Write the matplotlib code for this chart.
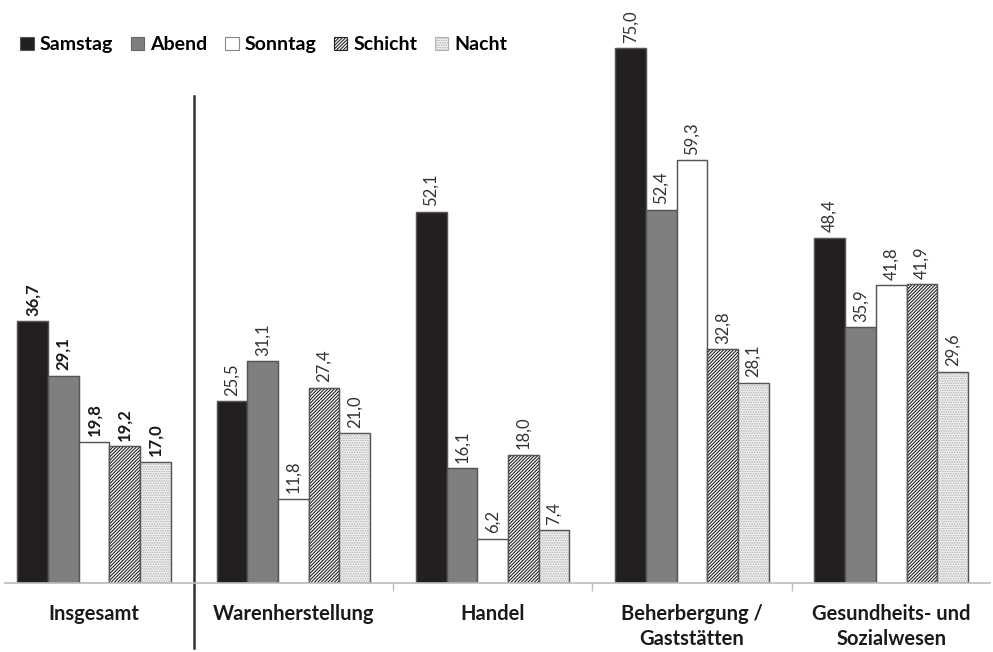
import matplotlib.pyplot as plt
import numpy as np

plt.rcParams['font.family'] = ['Lato', 'DejaVu Sans']
plt.rcParams['hatch.linewidth'] = 0.8

categories = ["Insgesamt", "Warenherstellung", "Handel",
              "Beherbergung /\nGaststätten", "Gesundheits- und\nSozialwesen"]
series = ["Samstag", "Abend", "Sonntag", "Schicht", "Nacht"]

samstag = [36.7, 25.5, 52.1, 75.0, 48.4]
abend = [29.1, 31.1, 16.1, 52.4, 35.9]
sonntag = [19.8, 11.8, 6.2, 59.3, 41.8]
schicht = [19.2, 27.4, 18.0, 32.8, 41.9]
nacht = [17.0, 21.0, 7.4, 28.1, 29.6]

values = [samstag, abend, sonntag, schicht, nacht]

faces = ['#231f20', '#7f7f7f', 'white', 'white', '#f2f2f2']
hatches = [None, None, None, '//////////', '.......']
hatch_cols = ['#555555', '#666666', '#888888', '#222222', '#b0b0b0']

fig = plt.figure(figsize=(9.93, 6.52), dpi=100)
ax = fig.add_axes([0.005, 0.1058, 0.992, 0.8942])

x = np.arange(len(categories))
w = 0.154
for j, vals in enumerate(values):
    pos = x + (j - 2) * w
    ax.bar(pos, vals, w, color=faces[j], edgecolor=hatch_cols[j],
           hatch=hatches[j], linewidth=0.8, label=series[j])
    # outline drawn separately so hatch colour and edge can differ
    ax.bar(pos, vals, w, fill=False, edgecolor='#555555', linewidth=1.0)
    for i, v in enumerate(vals):
        bold = (i == 0)
        ax.annotate(f"{v:.1f}".replace('.', ','), (pos[i], v),
                    xytext=(0, 4), textcoords='offset points',
                    rotation=90, ha='center', va='bottom', fontsize=12,
                    fontweight='bold' if bold else 'normal',
                    color='#1a1a1a' if bold else '#333333')

ax.set_xlim(-0.447, 4.496)
ax.set_ylim(0, 81.8)
ax.set_yticks([])
ax.set_xticks(x)
ax.set_xticklabels(categories, fontsize=14.5, fontweight='bold', color='#1a1a1a',
                   linespacing=1.3)
ax.tick_params(axis='x', length=0, pad=15)
ax.set_xticks(x[:-1] + 0.5, minor=True)
ax.tick_params(axis='x', which='minor', length=6, color='#bbbbbb', width=1)
for s in ['top', 'left', 'right']:
    ax.spines[s].set_visible(False)
ax.spines['bottom'].set_color('#bbbbbb')
ax.spines['bottom'].set_linewidth(1.2)

# separator between total and branches
ax.plot([0.502, 0.502], [68.3, -9.1], color='#333333', lw=1.8, clip_on=False)

handles, labels = ax.get_legend_handles_labels()
leg = fig.legend(handles, labels, loc='center left', bbox_to_anchor=(0.003, 0.931),
                 ncol=5, frameon=False, handlelength=0.7, handleheight=0.7,
                 handletextpad=0.3, columnspacing=0.9,
                 prop={'weight': 'bold', 'size': 14})

fig.savefig('out.png', dpi=100)
